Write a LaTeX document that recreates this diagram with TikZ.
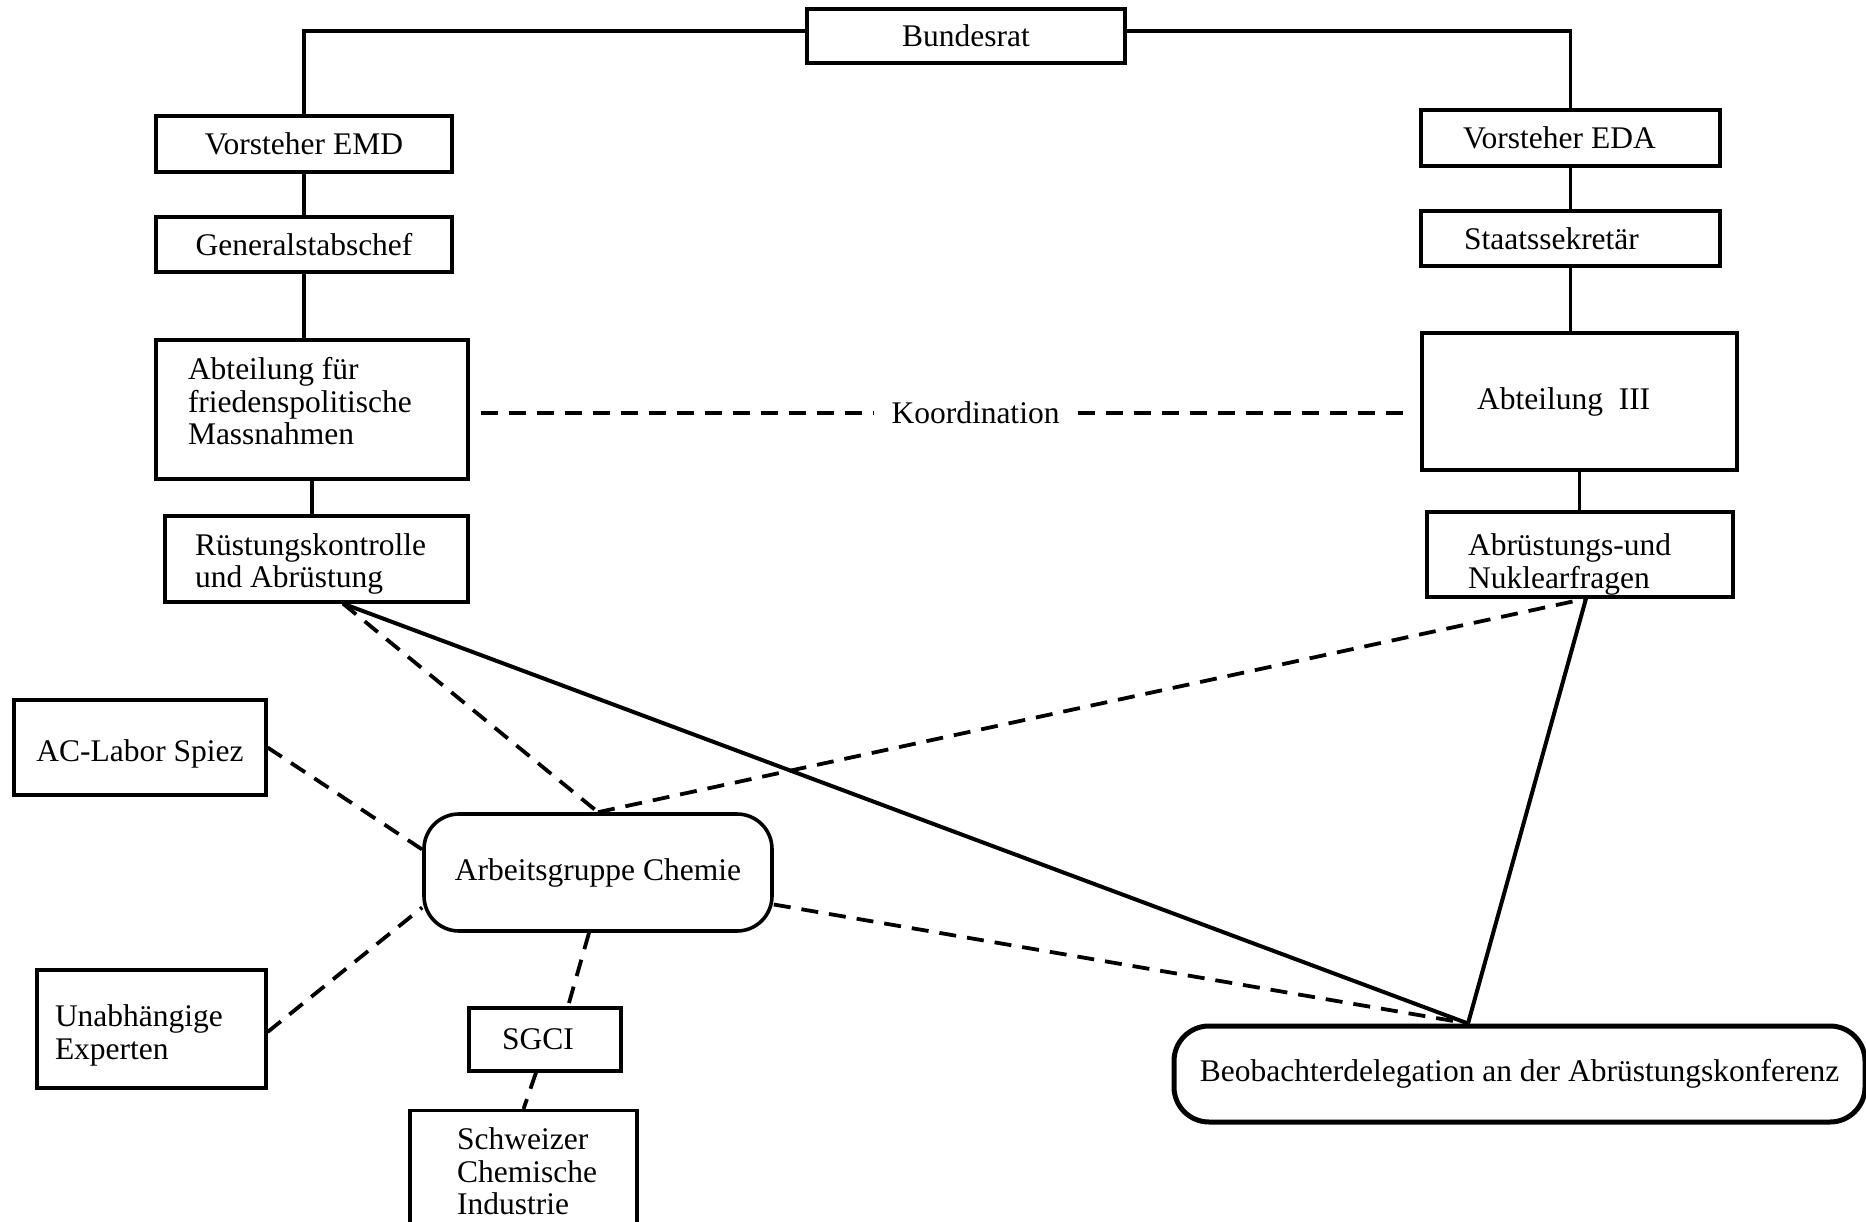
\documentclass[tikz,border=0pt]{standalone}
\usepackage{fontspec}
\setmainfont{Liberation Serif}
\usetikzlibrary{calc}
\begin{document}
\begin{tikzpicture}[x=1pt,y=-1pt,
  every node/.style={font=\fontsize{31.5}{32.5}\selectfont, inner sep=0pt},
  box/.style={draw, rectangle, line width=3.2pt},
  rbox/.style={draw, rectangle, rounded corners=35pt, line width=3.6pt},
  conn/.style={line width=3.2pt},
  diag/.style={line width=4pt},
  dsh/.style={line width=3.8pt, dash pattern=on 17pt off 11pt}]
\fill[white] (0,0) rectangle (1866,1222);
\useasboundingbox (0,0) rectangle (1866,1222);

% left column
\node[box, minimum width=318pt, minimum height=54pt] (bund) at (966,36) {Bundesrat};
\node[box, minimum width=296pt, minimum height=56pt] (emd) at (304,144) {Vorsteher EMD};
\node[box, minimum width=296pt, minimum height=55pt] (gen) at (304,244.5) {Generalstabschef};
\node[box, minimum width=312pt, minimum height=139pt, align=left, text width=248pt, inner xsep=32pt] (abtf) at (312,409.5)
  {\spaceskip=0pt\relax Abteilung für\\friedenspolitische\\Massnahmen\rule[-17pt]{0pt}{17pt}};
\node[box, minimum width=303pt, minimum height=86pt, align=left, text width=243pt, inner xsep=30pt] (rk) at (316.5,559)
  {\spaceskip=0pt\relax\rule{0pt}{32pt}Rüstungskontrolle\\und Abrüstung};

% right column
\node[box, minimum width=299pt, minimum height=56pt, align=left, text width=215pt, inner xsep=42pt] (eda) at (1570.5,138)
  {\spaceskip=0pt\relax Vorsteher EDA};
\node[box, minimum width=299pt, minimum height=55pt, align=left, text width=213pt, inner xsep=43pt] (sts) at (1570.5,238.5)
  {Staatssekretär};
\node[box, minimum width=315pt, minimum height=137pt, align=left, text width=205pt, inner xsep=55pt] (abt3) at (1579.5,401.5)
  {\spaceskip=0pt\relax Abteilung\ \ III};
\node[box, minimum width=306pt, minimum height=85pt, align=left, text width=224pt, inner xsep=41pt] (anf) at (1580,554.5)
  {\rule{0pt}{41.5pt}Abrüstungs-und\\Nuklearfragen};

% lower part
\node[box, minimum width=252pt, minimum height=95pt, text height=27pt, text depth=0pt] (ac) at (140,747.5) {AC-Labor Spiez};
\node[box, minimum width=229pt, minimum height=118pt, align=left, text width=193pt, inner xsep=18pt] (unab) at (151.5,1029)
  {\rule{0pt}{35pt}Unabhängige\\Experten};
\node[rbox, minimum width=348pt, minimum height=117pt] (ag) at (598,872.5) {Arbeitsgruppe Chemie};
\node[box, minimum width=152pt, minimum height=63pt, align=left, text width=86pt, inner xsep=33pt] (sgci) at (545,1039.5) {SGCI};
\node[box, anchor=north, minimum width=227pt, minimum height=150pt] (scibox) at (523.5,1109) {};
\node[anchor=north west, align=left] (sci) at (457,1127.5) {Schweizer\\Chemische\\Industrie};
\node[rbox, line width=5pt, minimum width=691pt, minimum height=96pt] (bd) at (1519.5,1074)
  {Beobachterdelegation an der Abrüstungskonferenz};

\node[inner xsep=18pt] (koord) at (975.5,413) {Koordination};

% hierarchy connectors
\draw[conn] ([yshift=5pt]bund.west) -| (emd.north);
\draw[conn] ([yshift=5pt]bund.east) -| (eda.north);
\draw[conn] (emd.south) -- (gen.north);
\draw[conn] (gen.south) -- (gen.south |- abtf.north);
\draw[conn] (abtf.south) -- (abtf.south |- rk.north);
\draw[conn] (eda.south) -- (sts.north);
\draw[conn] (sts.south) -- (sts.south |- abt3.north);
\draw[conn] (abt3.south) -- (abt3.south |- anf.north);

% coordination
\draw[dsh] ($(abtf.east |- koord.west)+(11,0)$) -- (koord.west);
\draw[dsh] (koord.east) -- ($(abt3.west |- koord.east)+(-10,0)$);

% diagonal connectors
\coordinate (rkb) at ($(rk.south)+(26.5,0)$);
\coordinate (anfb) at ($(anf.south)+(6,0)$);
\coordinate (bdt) at ($(bd.north)+(-51.5,0)$);
\draw[diag] (rkb) -- (bdt);
\draw[diag] (anfb) -- (bdt);
\draw[dsh] (rkb) -- (ag.north);
\draw[dsh] (ag.north) -- (anfb);
\draw[dsh] ($(ag.east)+(0,32)$) -- (bdt);
\draw[dsh] (ac.east) -- ($(ag.west)+(0,-23)$);
\draw[dsh] ($(unab.east)+(0,3)$) -- ($(ag.west)+(0,35)$);
\draw[dsh] ($(ag.south)+(-9,0)$) -- ($(sgci.north)+(23,0)$);
\draw[dsh] ($(sgci.south)+(-9,0)$) -- (scibox.north);
\end{tikzpicture}
\end{document}
